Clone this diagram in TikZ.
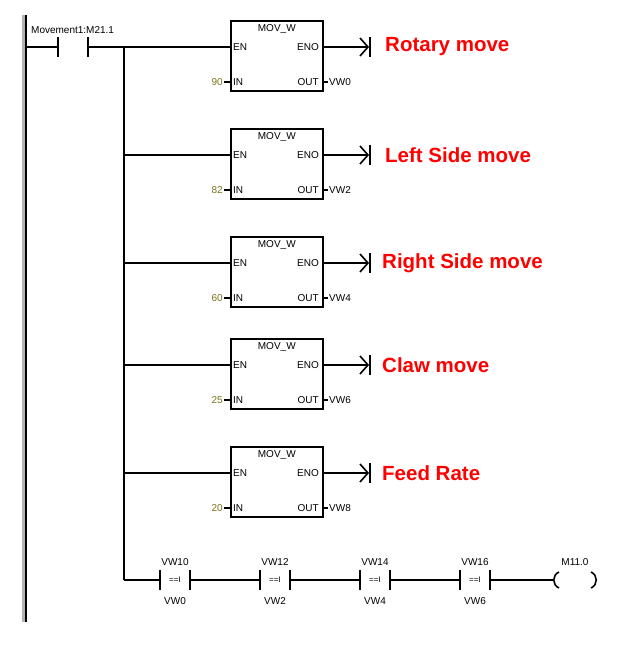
\documentclass[tikz,border=0pt]{standalone}
\usepackage{fontspec}
\setmainfont{Liberation Sans}
\begin{document}
\begin{tikzpicture}[x=1pt,y=-1pt,
  wire/.style={line width=1.6pt},
  lbl/.style={font=\fontsize{10}{11}\selectfont,inner sep=1pt},
  num/.style={lbl,text=olive!80!black},
  red lbl/.style={font=\fontsize{20.5}{22}\bfseries\selectfont,text=red,anchor=west,inner sep=0pt},
  movbox/.style={draw,line width=1.6pt,minimum width=92pt,minimum height=70pt,inner sep=0pt}]
\useasboundingbox (0,0) rectangle (621,653);
\fill[gray!60] (22,15) rectangle (26,622);
\draw[line width=1.2pt] (26,15) -- (26,622);
% input contact
\coordinate (r0) at (26,47);
\coordinate (c1) at (58,47);
\coordinate (c2) at (88,47);
\coordinate (b) at (124,47);
\draw[wire] (r0) -- (c1);
\draw[wire] (58,37) -- (58,57);
\draw[wire] (88,37) -- (88,57);
\node[lbl,anchor=south west] (mlbl) at (30,35) {Movement1:M21.1};
\draw[wire] (c2) -- (b);
\coordinate (bend) at (124,580);
\draw[wire] (b) -- (bend);
\foreach \i/\en/\n/\vw/\txt/\tx in {1/47/90/VW0/Rotary move/385, 2/155/82/VW2/Left Side move/385, 3/263/60/VW4/Right Side move/382, 4/365/25/VW6/Claw move/382, 5/473/20/VW8/Feed Rate/382}{
  \node[movbox,anchor=north west] (box\i) at (230,\en-27) {};
  \node[lbl,anchor=north] at ([yshift=-3pt]box\i.north) {MOV\_W};
  \node[lbl,anchor=west] at (232,\en) {EN};
  \node[lbl,anchor=east] at (320,\en) {ENO};
  \node[lbl,anchor=west] at (232,\en+35) {IN};
  \node[lbl,anchor=east] at (320,\en+35) {OUT};
  \coordinate (bj\i) at (124,\en);
  \draw[wire] (bj\i) -- (230,\en);
  \draw[line width=1.2pt] (224,\en+35) -- (230,\en+35);
  \node[num,anchor=east] (n\i) at (224,\en+35) {\n};
  \draw[line width=1.2pt] (322,\en+35) -- (328,\en+35);
  \node[lbl,anchor=west] (v\i) at (328,\en+35) {\vw};
  \coordinate (t\i) at (368,\en);
  \draw[wire] (322,\en) -- (t\i);
  \draw[wire] (360,\en-9) -- (t\i) -- (360,\en+9);
  \draw[wire] (370,\en-10) -- (370,\en+10);
  \node[red lbl] (rl\i) at (\tx,\en) {\txt};
}
% bottom rung
\draw[wire] (bend) -- (160,580);
\foreach \x/\a/\bb [count=\k] in {160/VW10/VW0, 260/VW12/VW2, 360/VW14/VW4, 460/VW16/VW6}{
  \draw[wire] (\x,570) -- (\x,590);
  \draw[wire] (\x+30,570) -- (\x+30,590);
  \node[lbl] (ca\k) at (\x+15,562) {\a};
  \node[lbl] (cb\k) at (\x+15,601) {\bb};
  \node[font=\fontsize{8}{9}\selectfont,inner sep=0pt] (cm\k) at (\x+15,580) {==I};
}
\draw[wire] (190,580) -- (260,580);
\draw[wire] (290,580) -- (360,580);
\draw[wire] (390,580) -- (460,580);
\draw[wire] (490,580) -- (553,580);
\draw[wire] (559,572) .. controls (552,575) and (552,585) .. (559,588);
\draw[wire] (591,572) .. controls (598,575) and (598,585) .. (591,588);
\node[lbl] (coil) at (575,562) {M11.0};
\end{tikzpicture}
\end{document}
